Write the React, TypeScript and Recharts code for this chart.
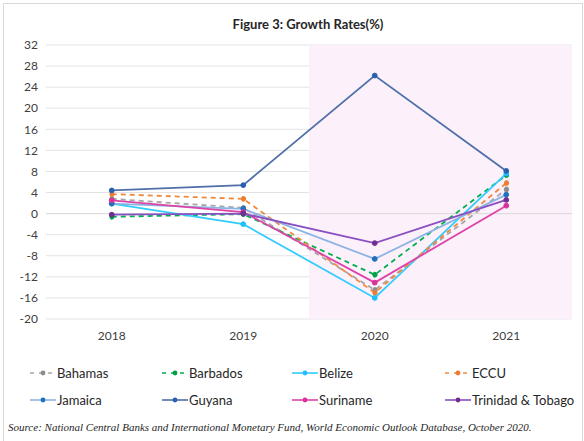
import { CartesianGrid, Line, LineChart, ReferenceArea, ReferenceLine, XAxis, YAxis } from "recharts";

const YEARS = ["2018", "2019", "2020", "2021"];
const Y_TICKS = [32, 28, 24, 20, 16, 12, 8, 4, 0, -4, -8, -12, -16, -20];

const BAHAMAS = [2.8, 1.1, -14.5, 4.6];
const BARBADOS = [-0.6, -0.1, -11.6, 7.3];
const BELIZE = [1.9, -2.0, -16.0, 7.6];
const ECCU = [3.7, 2.8, -15.0, 5.8];
const JAMAICA = [1.9, 0.9, -8.6, 3.6];
const GUYANA = [4.4, 5.4, 26.2, 8.1];
const SURINAME = [2.5, 0.3, -13.1, 1.5];
const TRINIDAD = [-0.2, 0.0, -5.6, 2.6];

interface SeriesDef {
  key: string;
  name: string;
  values: number[];
  line: string;
  dot: string;
  dashed?: boolean;
}

const SERIES: SeriesDef[] = [
  { key: "bahamas", name: "Bahamas", values: BAHAMAS, line: "#a5a5a5", dot: "#8c8c8c", dashed: true },
  { key: "barbados", name: "Barbados", values: BARBADOS, line: "#00b050", dot: "#00a04a", dashed: true },
  { key: "belize", name: "Belize", values: BELIZE, line: "#33ccff", dot: "#1fbfff" },
  { key: "eccu", name: "ECCU", values: ECCU, line: "#f08a3c", dot: "#ed7d31", dashed: true },
  { key: "jamaica", name: "Jamaica", values: JAMAICA, line: "#8db4e2", dot: "#1f6fc0" },
  { key: "guyana", name: "Guyana", values: GUYANA, line: "#4f6fa8", dot: "#2860b0" },
  { key: "suriname", name: "Suriname", values: SURINAME, line: "#dc44a8", dot: "#d9309c" },
  { key: "trinidad", name: "Trinidad & Tobago", values: TRINIDAD, line: "#8a4fc0", dot: "#6e2f8e" },
];

const data = YEARS.map((year, i) => {
  const row: Record<string, string | number> = { year };
  SERIES.forEach((s) => {
    row[s.key] = s.values[i];
  });
  return row;
});

// legend columns are not evenly spaced in the original, so place them by hand
const LEGEND_COLS = [30, 162, 292, 445];
const LEGEND_ROWS = [373, 400];

function LegendMarker({ s }: { s: SeriesDef }) {
  return (
    <svg width={26} height={10} style={{ display: "block" }}>
      <line
        x1={0}
        x2={26}
        y1={5}
        y2={5}
        stroke={s.line}
        strokeWidth={1.6}
        strokeDasharray={s.dashed ? "4 5" : undefined}
      />
      <circle cx={13} cy={5} r={2.4} fill={s.dot} />
    </svg>
  );
}

export default function App() {
  return (
    <div
      style={{
        position: "absolute",
        left: 0,
        top: 0,
        width: 584,
        height: 441,
        background: "#fff",
        fontFamily: "Lato, 'Open Sans', sans-serif",
      }}
    >
      <div
        style={{
          position: "absolute",
          left: 3,
          top: 3,
          width: 578,
          height: 440,
          borderTop: "1px solid #d9d9d9",
          borderLeft: "1px solid #d9d9d9",
          borderRight: "1px solid #d9d9d9",
        }}
      />
      <div
        style={{
          position: "absolute",
          left: 0,
          width: 584,
          top: 16,
          textAlign: "center",
          fontSize: 13,
          fontWeight: 700,
          color: "#262626",
          paddingLeft: 16,
        }}
      >
        Figure 3: Growth Rates(%)
      </div>
      <div style={{ position: "absolute", left: 0, top: 0 }}>
        <LineChart width={584} height={350} data={data} margin={{ top: 45, right: 12, bottom: 1, left: 6 }}>
          <ReferenceArea x1="2020" x2="2021" y1={-20} y2={32} fill="#fcf0fb" fillOpacity={1} stroke="none" />
          <CartesianGrid vertical={false} stroke="#e3e3e3" strokeWidth={1} />
          <XAxis
            dataKey="year"
            scale="band"
            axisLine={false}
            tickLine={false}
            tickMargin={6}
            tick={{ fontSize: 12, fill: "#404040" }}
            height={30}
          />
          <YAxis
            domain={[-20, 32]}
            ticks={Y_TICKS}
            interval={0}
            axisLine={false}
            tickLine={false}
            width={40}
            tick={{ fontSize: 12, fill: "#404040" }}
          />
          <ReferenceLine y={0} stroke="#d9d9d9" strokeWidth={1} />
          {SERIES.map((s) => (
            <Line
              key={s.key}
              dataKey={s.key}
              name={s.name}
              type="linear"
              stroke={s.line}
              strokeWidth={1.8}
              strokeDasharray={s.dashed ? "5 4" : undefined}
              dot={{ r: 2.4, fill: s.dot, stroke: s.dot, strokeWidth: 1 }}
              isAnimationActive={false}
            />
          ))}
        </LineChart>
      </div>
      {SERIES.map((s, i) => (
        <div
          key={s.key}
          style={{
            position: "absolute",
            left: LEGEND_COLS[i % 4],
            top: LEGEND_ROWS[Math.floor(i / 4)] - 9,
            height: 18,
            display: "flex",
            alignItems: "center",
            gap: 1,
            fontSize: 13,
            color: "#262626",
            whiteSpace: "nowrap",
          }}
        >
          <LegendMarker s={s} />
          <span>{s.name}</span>
        </div>
      ))}
      <div
        style={{
          position: "absolute",
          left: 8,
          top: 421,
          fontFamily: "'Liberation Serif', serif",
          fontStyle: "italic",
          fontSize: 11,
          color: "#262626",
          whiteSpace: "nowrap",
        }}
      >
        Source: National Central Banks and International Monetary Fund, World Economic Outlook Database, October 2020.
      </div>
    </div>
  );
}
